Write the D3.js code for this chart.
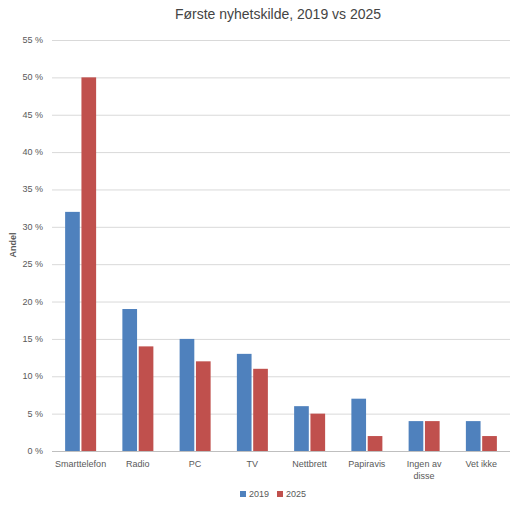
<!DOCTYPE html>
<html><head><meta charset="utf-8">
<script src="https://cdn.jsdelivr.net/npm/d3@7"></script>
<style>body{margin:0;background:#fff;font-family:"Liberation Sans",Arial,sans-serif}</style>
</head><body><div id="chart"></div>
<script>
var categories = ["Smarttelefon","Radio","PC","TV","Nettbrett","Papiravis","Ingen av disse","Vet ikke"];
var values2019 = [32,19,15,13,6,7,4,4];
var values2025 = [50,14,12,11,5,2,4,2];
var seriesNames = ["2019","2025"];
var colors = ["#4f81bd","#c0504d"];
var yTicks = [0,5,10,15,20,25,30,35,40,45,50,55];

var svg = d3.select("#chart").append("svg").attr("width",526).attr("height",508);
var x = d3.scaleBand().domain(categories).range([52,510]);
var xs = d3.scaleBand().domain(seriesNames).range([0,31]).paddingInner(0.1);
var y = d3.scaleLinear().domain([0,55]).range([451,40]);

svg.append("text").attr("x",278).attr("y",19).attr("text-anchor","middle")
  .attr("font-size",14).attr("fill","#444").text("Første nyhetskilde, 2019 vs 2025");

svg.selectAll("line.grid").data(yTicks).enter().append("line")
  .attr("x1",52).attr("x2",510).attr("y1",d=>y(d)+0.5).attr("y2",d=>y(d)+0.5)
  .attr("stroke",d=>d===0?"#bfbfbf":"#d9d9d9");
svg.selectAll("text.yt").data(yTicks).enter().append("text")
  .attr("x",43).attr("y",d=>y(d)+3).attr("text-anchor","end").attr("font-size",9).attr("fill","#595959")
  .text(d=>d+" %");
svg.append("text").attr("transform","translate(16,245) rotate(-90)").attr("text-anchor","middle")
  .attr("font-size",9).attr("font-weight","bold").attr("fill","#595959").text("Andel");

[values2019,values2025].forEach(function(vals,i){
  svg.selectAll("rect.s"+i).data(vals).enter().append("rect")
    .attr("x",(d,j)=>x(categories[j])+x.bandwidth()/2-15.5+xs(seriesNames[i]))
    .attr("width",xs.bandwidth()).attr("y",d=>y(d)).attr("height",d=>y(0)-y(d))
    .attr("fill",colors[i]);
});

categories.forEach(function(c){
  var words = c==="Ingen av disse" ? ["Ingen av","disse"] : [c];
  words.forEach(function(w,k){
    svg.append("text").attr("x",x(c)+x.bandwidth()/2).attr("y",467+k*12)
      .attr("text-anchor","middle").attr("font-size",9).attr("fill","#595959").text(w);
  });
});

var lg = svg.append("g");
seriesNames.forEach(function(s,i){
  lg.append("rect").attr("x",240+i*37).attr("y",491).attr("width",6).attr("height",6).attr("fill",colors[i]);
  lg.append("text").attr("x",249+i*37).attr("y",497).attr("font-size",9).attr("fill","#595959").text(s);
});
</script></body></html>
